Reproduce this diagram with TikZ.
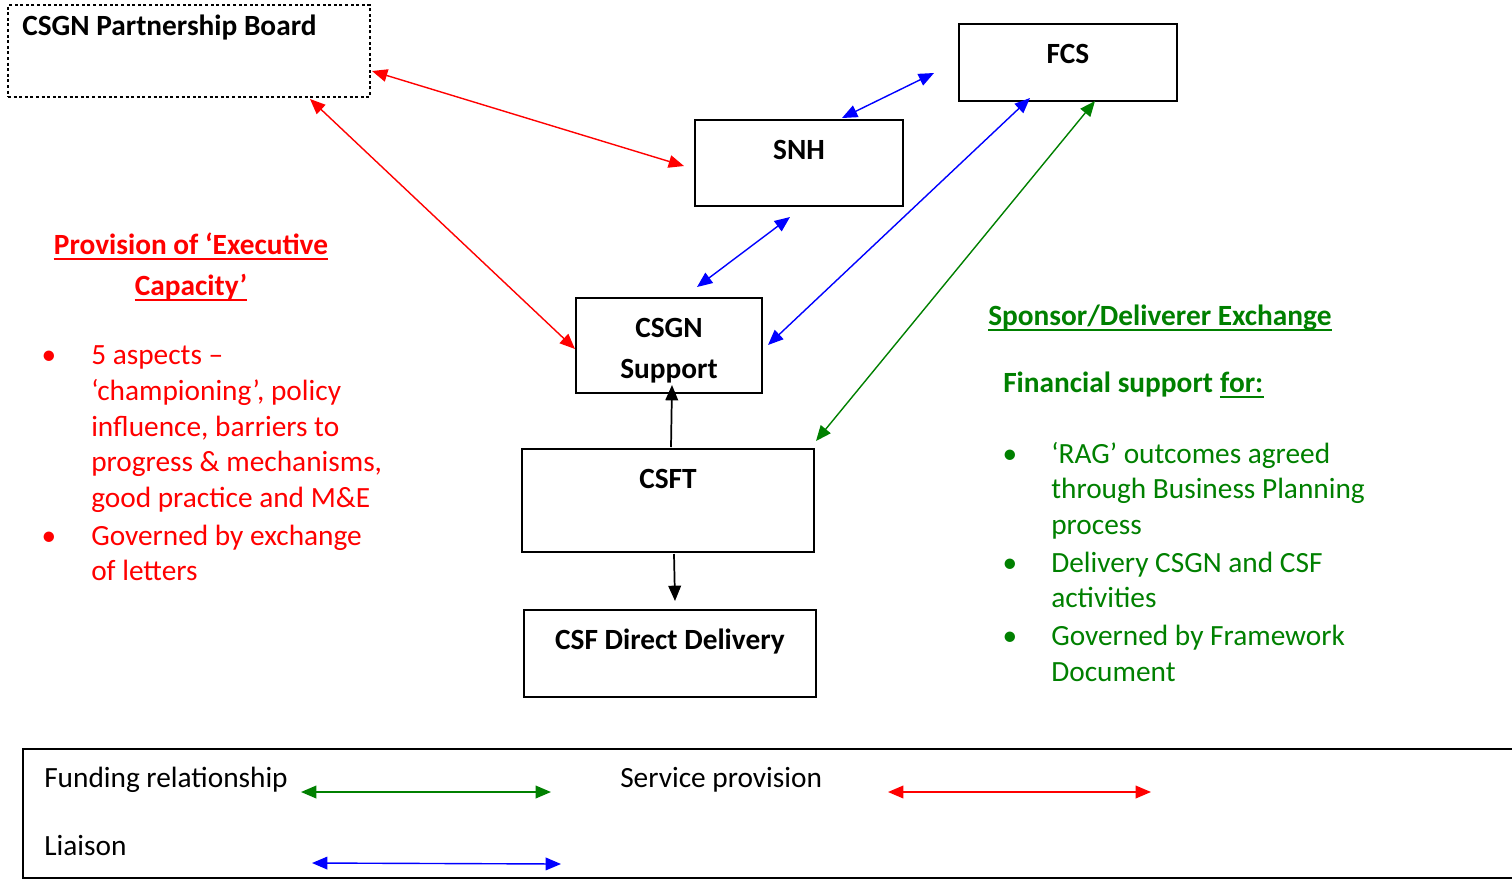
\documentclass[tikz,border=0pt]{standalone}
\usepackage{fontspec}
\setmainfont{Carlito}
\usetikzlibrary{arrows.meta}
\definecolor{dgreen}{RGB}{0,128,0}
\definecolor{pred}{RGB}{255,0,0}
\definecolor{pblue}{RGB}{0,0,255}
\begin{document}
\begin{tikzpicture}[x=0.75pt,y=-0.75pt,
  box/.style={draw,line width=1.2pt,inner sep=0pt},
  txt/.style={inner sep=0pt,anchor=base west,font=\fontsize{22}{26.8}\selectfont},
  ctxt/.style={inner sep=0pt,anchor=base,font=\fontsize{22}{26.8}\selectfont},
  btxt/.style={inner sep=0pt,anchor=base,font=\fontsize{22}{26.8}\selectfont\bfseries},
  uline/.style={line width=1.4pt},
  dbl/.style={line width=1.05pt,{Triangle[length=11.5pt,width=9.5pt]}-{Triangle[length=11.5pt,width=9.5pt]}},
  sgl/.style={line width=1.3pt,-{Triangle[length=11.5pt,width=9.5pt]}}
]
\useasboundingbox (0,0) rectangle (1512,879);

% boxes
\node[box,dash pattern=on 2.2pt off 2pt,line width=1.5pt,minimum width=271.5pt,minimum height=69pt] (board) at (189,51) {};
\node[box,minimum width=163.5pt,minimum height=57.75pt] (fcs) at (1068,62.5) {};
\node[box,minimum width=156pt,minimum height=64.5pt] (snh) at (799,163) {};
\node[box,minimum width=139.5pt,minimum height=71.25pt] (sup) at (669,345.5) {};
\node[box,minimum width=219pt,minimum height=77.25pt] (csft) at (668,500.5) {};
\node[box,minimum width=219pt,minimum height=65.25pt] (dd) at (670,653.5) {};
\node[box,line width=1.5pt,minimum width=1118.25pt,minimum height=96.75pt] (legend) at (768.5,813.5) {};

% box labels
\node[btxt,anchor=base west] (tboard) at (22,35) {CSGN Partnership Board};
\node[btxt] (tfcs) at (1068,63) {FCS};
\node[btxt] (tsnh) at (799,159) {SNH};
\node[btxt] (tsup1) at (669,337) {CSGN};
\node[btxt] (tsup2) at (669,378) {Support};
\node[btxt] (tcsft) at (668,488) {CSFT};
\node[btxt] (tdd) at (670,649) {CSF Direct Delivery};

% connector end points
\coordinate (r1a) at (372,71);  \coordinate (r1b) at (684,166);
\coordinate (r2a) at (310,99);  \coordinate (r2b) at (575,349);
\coordinate (b1a) at (842,118); \coordinate (b1b) at (934,73);
\coordinate (b2a) at (697,287); \coordinate (b2b) at (790,217);
\coordinate (b3a) at (1030,98); \coordinate (b3b) at (768,345);
\coordinate (g1a) at (1095,101);\coordinate (g1b) at (816,441);
\coordinate (k1a) at (671,447); \coordinate (k1b) at (672,385);
\coordinate (k2a) at (674,554); \coordinate (k2b) at (675,601);

\draw[dbl,pred] (r1a) -- (r1b);
\draw[dbl,pred] (r2a) -- (r2b);
\draw[dbl,pblue] (b1a) -- (b1b);
\draw[dbl,pblue] (b2a) -- (b2b);
\draw[dbl,pblue] (b3a) -- (b3b);
\draw[dbl,dgreen] (g1a) -- (g1b);
\draw[sgl,black] (k1a) -- (k1b);
\draw[sgl,black] (k2a) -- (k2b);

% red text
\begin{scope}[every node/.append style={text=pred}]
\node[btxt] (rh1) at (191,254) {Provision of ‘Executive};
\node[btxt] (rh2) at (191,295) {Capacity’};
\node[ctxt] (rb1) at (49,364) {•};
\node[txt] (rl1) at (91,364) {5 aspects –};
\node[txt] (rl2) at (91,400) {‘championing’, policy};
\node[txt] (rl3) at (91,436) {influence, barriers to};
\node[txt] (rl4) at (91,471) {progress \& mechanisms,};
\node[txt] (rl5) at (91,507) {good practice and M\&E};
\node[ctxt] (rb2) at (49,545) {•};
\node[txt] (rl6) at (91,545) {Governed by exchange};
\node[txt] (rl7) at (91,580) {of letters};
\end{scope}
\draw[uline,pred] ([yshift=-3.5pt]rh1.base west) -- ([yshift=-3.5pt]rh1.base east);
\draw[uline,pred] ([yshift=-3.5pt]rh2.base west) -- ([yshift=-3.5pt]rh2.base east);

% green text
\begin{scope}[every node/.append style={text=dgreen}]
\node[btxt,anchor=base west] (gh1) at (988,325) {Sponsor/Deliverer Exchange};
\node[btxt,anchor=base west] (gh2) at (1003,392) {Financial support};
\node[btxt,anchor=base west] (gh3) at ([xshift=5pt]gh2.base east) {for:};
\node[ctxt] (gb1) at (1010,463) {•};
\node[txt] (gl1) at (1051,463) {‘RAG’ outcomes agreed};
\node[txt] (gl2) at (1051,498) {through Business Planning};
\node[txt] (gl3) at (1051,534) {process};
\node[ctxt] (gb2) at (1010,572) {•};
\node[txt] (gl4) at (1051,572) {Delivery CSGN and CSF};
\node[txt] (gl5) at (1051,607) {activities};
\node[ctxt] (gb3) at (1010,645) {•};
\node[txt] (gl6) at (1051,645) {Governed by Framework};
\node[txt] (gl7) at (1051,681) {Document};
\end{scope}
\draw[uline,dgreen] ([yshift=-3.5pt]gh1.base west) -- ([yshift=-3.5pt]gh1.base east);
\draw[uline,dgreen] ([yshift=-3.5pt]gh3.base west) -- ([yshift=-3.5pt]gh3.base east);

% legend
\node[txt] (lf) at (44,787) {Funding relationship};
\node[txt] (ls) at (620,787) {Service provision};
\node[txt] (ll) at (44,855) {Liaison};
\coordinate (lg1) at (301,792); \coordinate (lg2) at (551,792);
\coordinate (lr1) at (888,792); \coordinate (lr2) at (1151,792);
\coordinate (lb1) at (312,863); \coordinate (lb2) at (561,864);
\draw[dbl,dgreen] (lg1) -- (lg2);
\draw[dbl,pred] (lr1) -- (lr2);
\draw[dbl,pblue] (lb1) -- (lb2);
\end{tikzpicture}
\end{document}
